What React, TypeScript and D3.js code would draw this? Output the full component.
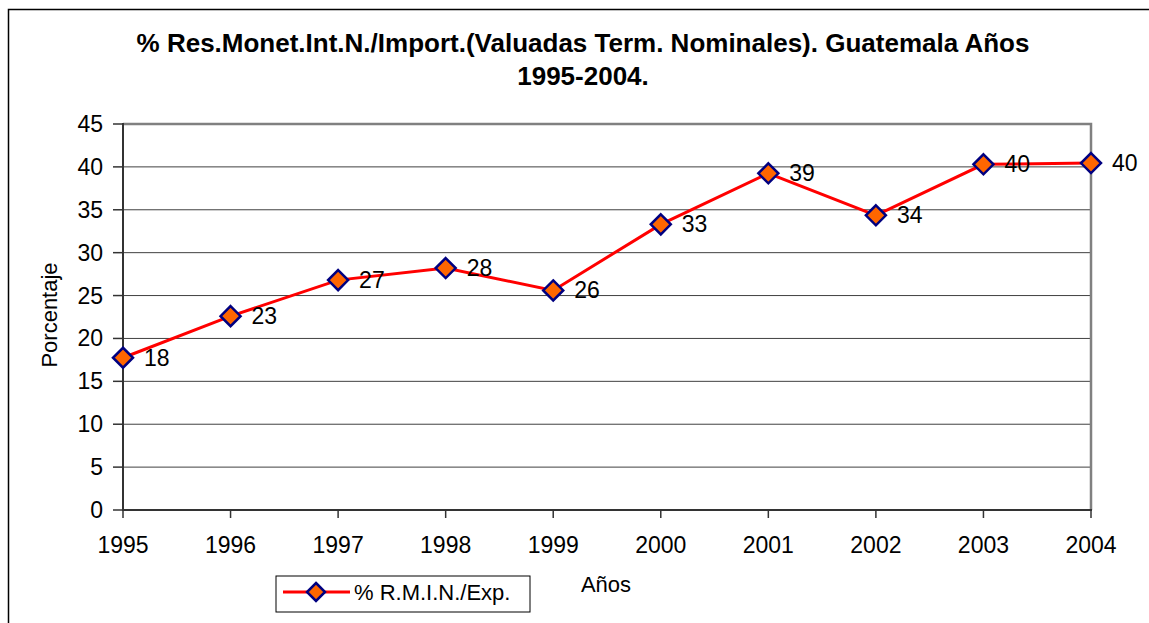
import * as d3 from "d3";

const W = 1149;
const H = 623;

const marginLeft = 123;
const marginRight = 1149 - 1091;
const marginTop = 124;
const marginBottom = 623 - 510;

const years = ["1995", "1996", "1997", "1998", "1999", "2000", "2001", "2002", "2003", "2004"];
const values = [17.75, 22.6, 26.8, 28.2, 25.6, 33.3, 39.25, 34.35, 40.3, 40.45];
const yTicks = [0, 5, 10, 15, 20, 25, 30, 35, 40, 45];

const titleLines = [
  "% Res.Monet.Int.N./Import.(Valuadas Term. Nominales). Guatemala Años",
  "1995-2004.",
];
const seriesName = "% R.M.I.N./Exp.";

const font = "'Liberation Sans', Arial, sans-serif";

const diamond = (cx: number, cy: number, r: number) =>
  `M${cx},${cy - r}L${cx + r},${cy}L${cx},${cy + r}L${cx - r},${cy}Z`;

const App = () => {
  const xScale = d3
    .scalePoint<string>()
    .domain(years)
    .range([marginLeft, W - marginRight]);

  const yScale = d3
    .scaleLinear()
    .domain([0, 45])
    .range([H - marginBottom, marginTop]);

  const x0 = marginLeft;
  const x1 = W - marginRight;
  const y0 = H - marginBottom;
  const y1 = marginTop;

  const line = d3
    .line<number>()
    .x((_, i) => xScale(years[i]) as number)
    .y((d) => yScale(d));

  return (
    <div style={{ position: "fixed", left: 0, top: 0 }}>
      <svg width={W} height={H} viewBox={`0 0 ${W} ${H}`} style={{ display: "block", background: "#fff" }}>
        {/* outer frame, cut by the picture edge */}
        <rect x={8.5} y={9.5} width={1300} height={800} fill="none" stroke="#000" strokeWidth={1.5} />

        {/* title */}
        <g fontFamily={font} fontWeight="bold" fontSize={26} textAnchor="middle" fill="#000">
          <text x={583} y={52}>{titleLines[0]}</text>
          <text x={583} y={85}>{titleLines[1]}</text>
        </g>

        {/* gridlines */}
        {yTicks.filter((t) => t > 0 && t < 45).map((t) => (
          <line key={t} x1={x0} x2={x1} y1={yScale(t)} y2={yScale(t)} stroke="#404040" strokeWidth={1} />
        ))}

        {/* plot frame: top and right in grey */}
        <path d={`M${x0},${y1}H${x1}V${y0}`} fill="none" stroke="#808080" strokeWidth={2.5} />

        {/* y axis */}
        <line x1={x0} x2={x0} y1={y1 - 1} y2={y0} stroke="#333" strokeWidth={2} />
        {yTicks.map((t) => (
          <g key={t}>
            <line x1={x0 - 10} x2={x0} y1={yScale(t)} y2={yScale(t)} stroke="#333" strokeWidth={1.5} />
            <text x={103} y={yScale(t) + 8} textAnchor="end" fontFamily={font} fontSize={23} fill="#000">
              {t}
            </text>
          </g>
        ))}

        {/* x axis */}
        <line x1={x0 - 1} x2={x1 + 1} y1={y0} y2={y0} stroke="#333" strokeWidth={2} />
        {years.map((yr) => (
          <g key={yr}>
            <line x1={xScale(yr)} x2={xScale(yr)} y1={y0} y2={y0 + 8} stroke="#333" strokeWidth={1.5} />
            <text x={xScale(yr)} y={553} textAnchor="middle" fontFamily={font} fontSize={23} fill="#000">
              {yr}
            </text>
          </g>
        ))}

        {/* axis titles */}
        <text x={606} y={592} textAnchor="middle" fontFamily={font} fontSize={22} fill="#000">
          Años
        </text>
        <text
          transform={`translate(57,315) rotate(-90)`}
          textAnchor="middle"
          fontFamily={font}
          fontSize={22}
          fill="#000"
        >
          Porcentaje
        </text>

        {/* series */}
        <path d={line(values) ?? ""} fill="none" stroke="#ff0000" strokeWidth={3} />
        {values.map((v, i) => (
          <path
            key={years[i]}
            d={diamond(xScale(years[i]) as number, yScale(v), 10)}
            fill="#ff6600"
            stroke="#000080"
            strokeWidth={2.5}
          />
        ))}
        {values.map((v, i) => (
          <text
            key={"l" + years[i]}
            x={(xScale(years[i]) as number) + 21}
            y={yScale(v) + 8}
            fontFamily={font}
            fontSize={23}
            fill="#000"
          >
            {Math.round(v)}
          </text>
        ))}

        {/* legend */}
        <rect x={276} y={576} width={254} height={36} fill="#fff" stroke="#000" strokeWidth={1} />
        <line x1={283} x2={350} y1={592} y2={592} stroke="#ff0000" strokeWidth={3} />
        <path d={diamond(316, 592, 9)} fill="#ff6600" stroke="#000080" strokeWidth={2.5} />
        <text x={354} y={600} fontFamily={font} fontSize={22} fill="#000">
          {seriesName}
        </text>
      </svg>
    </div>
  );
};

export default App;
